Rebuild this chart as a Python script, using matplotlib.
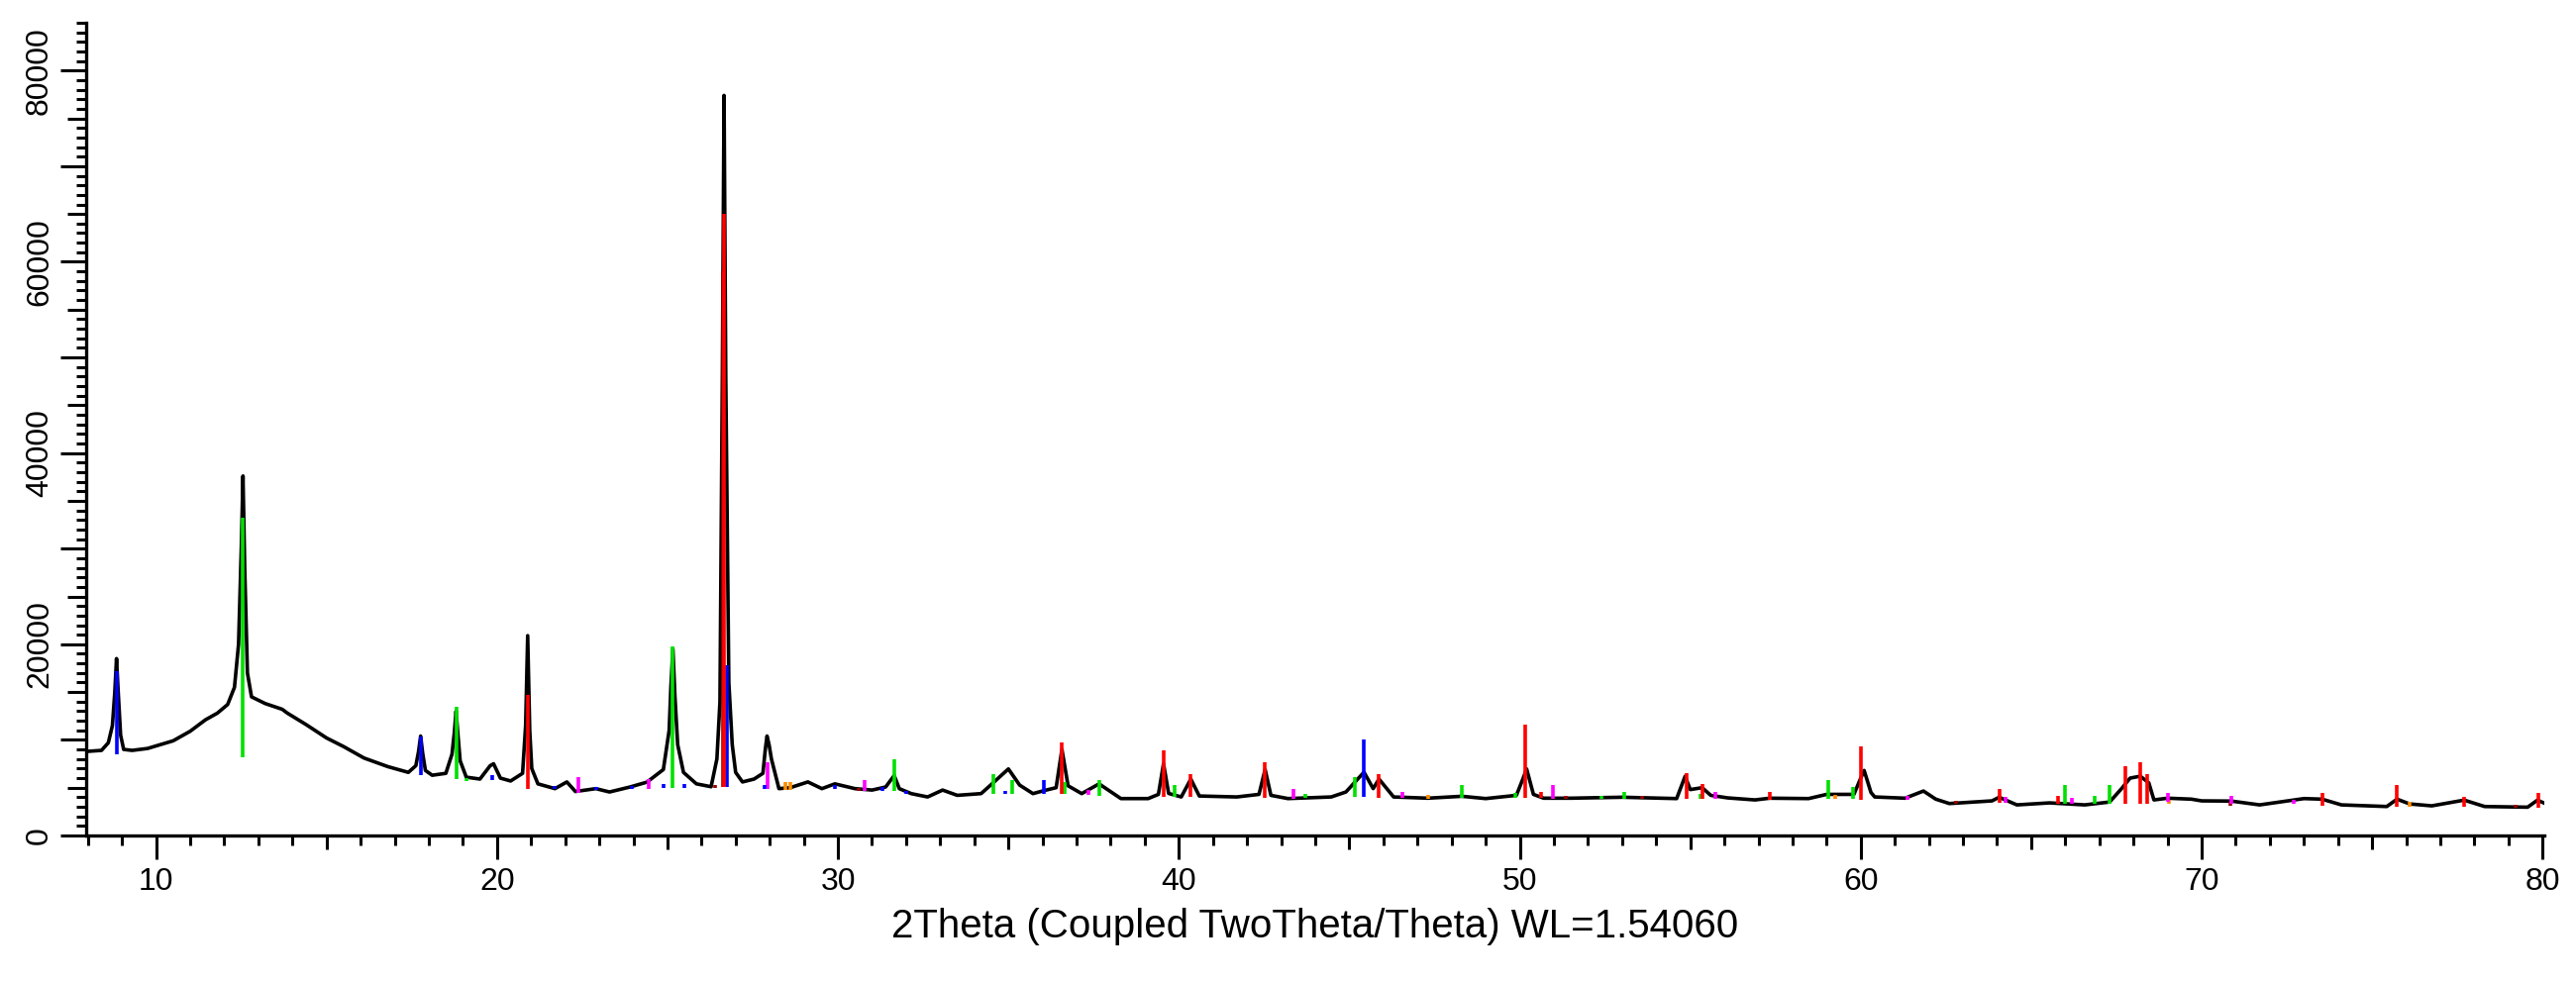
import matplotlib
matplotlib.use("Agg")
import matplotlib.pyplot as plt

plt.rcParams['font.family'] = ['Liberation Sans', 'DejaVu Sans']

two_theta = [8.0, 8.4, 8.6, 8.72, 8.79, 8.84, 8.89, 8.96, 9.05, 9.3, 9.75, 10.5, 11.0, 11.45, 11.8, 12.1,
             12.3, 12.42, 12.5, 12.55, 12.6, 12.68, 12.8, 13.2, 13.7, 13.85, 14.4, 15.0, 15.5, 16.1,
             16.8, 17.4, 17.62, 17.7, 17.76, 17.82, 17.9, 18.1, 18.5, 18.68, 18.75, 18.8, 18.86,
             18.92, 19.1, 19.5, 19.8, 19.9, 20.1, 20.4, 20.75, 20.84, 20.9, 20.96, 21.02, 21.2, 21.7,
             22.05, 22.3, 22.9, 23.3, 23.9, 24.4, 24.88, 25.05, 25.1, 25.16, 25.22, 25.3, 25.47,
             25.85, 26.28, 26.45, 26.54, 26.61, 26.66, 26.71, 26.8, 26.9, 27.0, 27.2, 27.54, 27.8,
             27.87, 27.92, 27.98, 28.05, 28.27, 28.6, 29.12, 29.53, 29.91, 30.5, 31.0, 31.4, 31.65,
             31.8, 32.15, 32.63, 33.07, 33.5, 34.2, 34.55, 35.0, 35.33, 35.72, 36.05, 36.4, 36.57,
             36.75, 37.15, 37.66, 38.3, 39.1, 39.4, 39.55, 39.7, 40.07, 40.35, 40.6, 41.7, 42.35,
             42.53, 42.7, 43.2, 44.47, 44.9, 45.43, 45.7, 45.87, 46.3, 47.3, 48.3, 49.0, 49.9, 50.1,
             50.2, 50.4, 50.7, 51.5, 53.0, 54.6, 54.85, 55.0, 55.35, 55.6, 56.1, 56.9, 57.33, 58.47,
             59.0, 59.8, 60.0, 60.1, 60.3, 60.41, 61.3, 61.84, 62.2, 62.6, 63.85, 64.06, 64.58,
             65.54, 66.57, 67.3, 67.65, 67.9, 68.2, 68.45, 68.6, 69.0, 69.7, 70.0, 70.87, 71.7,
             73.0, 73.53, 74.1, 75.43, 75.73, 76.1, 76.75, 77.7, 78.3, 79.56, 79.85, 80.1]
counts = [8800, 8900, 9700, 11500, 15000, 18500, 15000, 10500, 9000, 8900, 9100, 9900, 10900, 12100,
          12800, 13700, 15500, 20000, 30000, 37600, 28000, 17000, 14500, 13800, 13200, 12800, 11600,
          10200, 9300, 8100, 7200, 6600, 7300, 8800, 10400, 8600, 6800, 6300, 6500, 8500, 10800,
          13000, 10300, 7800, 6100, 5900, 7300, 7500, 6000, 5700, 6500, 11500, 20900, 11000, 7000,
          5400, 4900, 5600, 4600, 4900, 4550, 5070, 5580, 6900, 11000, 15500, 19500, 14500, 9500,
          6600, 5400, 5100, 8000, 14000, 48000, 77400, 48000, 16000, 9500, 6600, 5600, 5900, 6500,
          9000, 10400, 9500, 8000, 4900, 5000, 5600, 4900, 5400, 4900, 4750, 5070, 6270, 4900, 4380,
          4030, 4750, 4200, 4380, 5500, 6960, 5270, 4380, 4700, 5000, 9000, 5200, 4380, 5400, 3860,
          3860, 4300, 7500, 4400, 4030, 5900, 4130, 4030, 4300, 6900, 4200, 3860, 4030, 4550, 6620,
          4900, 5900, 4030, 3900, 4100, 3860, 4200, 6000, 6960, 4300, 3900, 3900, 4000, 3860, 6200,
          4800, 5000, 4200, 3930, 3720, 3900, 3860, 4300, 4300, 6000, 6800, 4500, 4030, 3900, 4650,
          3800, 3340, 3620, 4000, 3200, 3410, 3200, 3500, 4900, 6000, 6200, 5500, 3720, 3900, 3800,
          3620, 3600, 3200, 3860, 3800, 3200, 3030, 3800, 3300, 3100, 3700, 3030, 2960, 3700, 3300]

# reference sticks per phase: (position, base, top)
blue_sticks = [(8.84, 8500, 17160), (17.76, 6300, 10400), (19.85, 5800, 6300), (21.68, 4900, 5200),
               (22.9, 4800, 5100), (23.96, 4900, 5200), (24.9, 5000, 5400), (25.5, 5000, 5400),
               (26.74, 5100, 17800), (27.85, 4900, 5300), (29.9, 4900, 5300), (31.3, 4700, 5100),
               (32.0, 4400, 4700), (34.9, 4300, 4700), (36.05, 4300, 5790), (45.43, 4000, 10060)]
green_sticks = [(12.55, 8170, 33200), (18.8, 5900, 13500), (19.1, 5700, 6000), (25.16, 5000, 19800),
                (31.65, 4700, 8000), (34.55, 4300, 6440), (35.1, 4300, 5790), (36.65, 4300, 5580),
                (37.66, 4100, 5790), (39.87, 4000, 5270), (43.7, 3900, 4380), (45.17, 4000, 6100),
                (48.3, 3900, 5300), (49.87, 3900, 4500), (52.4, 3800, 4100), (53.06, 3800, 4550),
                (55.3, 3800, 4300), (59.06, 3800, 5790), (59.77, 3800, 5070), (66.0, 3300, 5300),
                (66.85, 3300, 4130), (67.3, 3300, 5300)]
darkred_sticks = [(26.4, 5000, 5300), (26.62, 5100, 59000), (30.6, 4700, 5000), (51.35, 3800, 4100),
                  (53.6, 3800, 4100), (62.8, 3300, 3600), (70.85, 3100, 3500), (79.2, 2900, 3200)]
red_sticks = [(20.9, 4900, 14700), (26.66, 5100, 65000), (36.57, 4300, 9720), (39.55, 4000, 8890),
              (40.35, 4000, 6440), (42.53, 3900, 7650), (45.87, 3900, 6440), (50.17, 3900, 11600),
              (50.63, 3900, 4550), (54.9, 3800, 6510), (55.36, 3800, 5400), (57.33, 3700, 4550),
              (60.0, 3700, 9300), (64.06, 3400, 4900), (65.79, 3300, 4130), (67.75, 3300, 7240),
              (68.2, 3300, 7650), (68.4, 3300, 6440), (73.53, 3100, 4450), (75.73, 3000, 5300),
              (77.7, 3000, 4030), (79.87, 2900, 4450)]
magenta_sticks = [(22.39, 4500, 6100), (24.45, 4900, 5900), (27.95, 4900, 7650), (30.77, 4700, 5800),
                  (37.35, 4200, 4750), (43.35, 3800, 4900), (46.57, 3900, 4550), (50.98, 3800, 5300),
                  (55.73, 3800, 4550), (61.36, 3700, 4100), (64.26, 3400, 4000), (66.2, 3300, 3900),
                  (69.0, 3500, 4450), (70.87, 3300, 4130), (72.7, 3300, 3700)]
orange_sticks = [(28.45, 4800, 5600), (28.6, 4800, 5600), (47.32, 3800, 4200), (59.25, 3800, 4200),
                 (69.05, 3300, 3700), (76.1, 3000, 3500)]

phases = [(darkred_sticks, '#9a0000'), (orange_sticks, '#ff8c00'), (magenta_sticks, '#ff00ff'),
          (green_sticks, '#00e000'), (blue_sticks, '#0000ff'), (red_sticks, '#ff0000')]

fig = plt.figure(figsize=(26.01, 9.91), dpi=100)
ax = fig.add_axes([87 / 2601, 1 - 844 / 991, (2569 - 87) / 2601, (844 - 23) / 991])

ax.plot(two_theta, counts, color='black', lw=2.6, solid_joinstyle='round', zorder=2)
for sticks, col in phases:
    xs = [s[0] for s in sticks]
    ax.vlines(xs, [s[1] for s in sticks], [s[2] for s in sticks], colors=col, lw=2.6, zorder=3)

ax.set_xlim(7.95, 80.05)
ax.set_ylim(0, 85000)

for side in ['top', 'right']:
    ax.spines[side].set_visible(False)
for side in ['left', 'bottom']:
    ax.spines[side].set_linewidth(2.4)

xt = list(range(10, 81, 5))
ax.set_xticks(xt)
ax.set_xticklabels([str(v) if v % 10 == 0 else '' for v in xt])
ax.set_xticks(range(8, 81), minor=True)
yt = list(range(0, 80001, 5000))
ax.set_yticks(yt)
ax.set_yticklabels([str(v) if v % 20000 == 0 else '' for v in yt])
ax.set_yticks(range(0, 85001, 1000), minor=True)

ax.tick_params(which='both', direction='out', width=2.2, color='black')
ax.tick_params(which='minor', length=7.5)
ax.tick_params(axis='x', which='major', length=17, labelsize=23, pad=6)
ax.tick_params(axis='y', which='major', length=19, labelsize=23, pad=4)
for t, v in zip(ax.xaxis.get_major_ticks(), xt):
    t.tick1line.set_markersize(17 if v % 10 == 0 else 10)
for t, v in zip(ax.yaxis.get_major_ticks(), yt):
    t.tick1line.set_markersize(19 if v % 10000 == 0 else 14)
plt.setp(ax.get_yticklabels(), rotation=90, va='center')

ax.set_xlabel('2Theta (Coupled TwoTheta/Theta) WL=1.54060', fontsize=29, labelpad=8)

fig.savefig('out.png', dpi=100, facecolor='white')
